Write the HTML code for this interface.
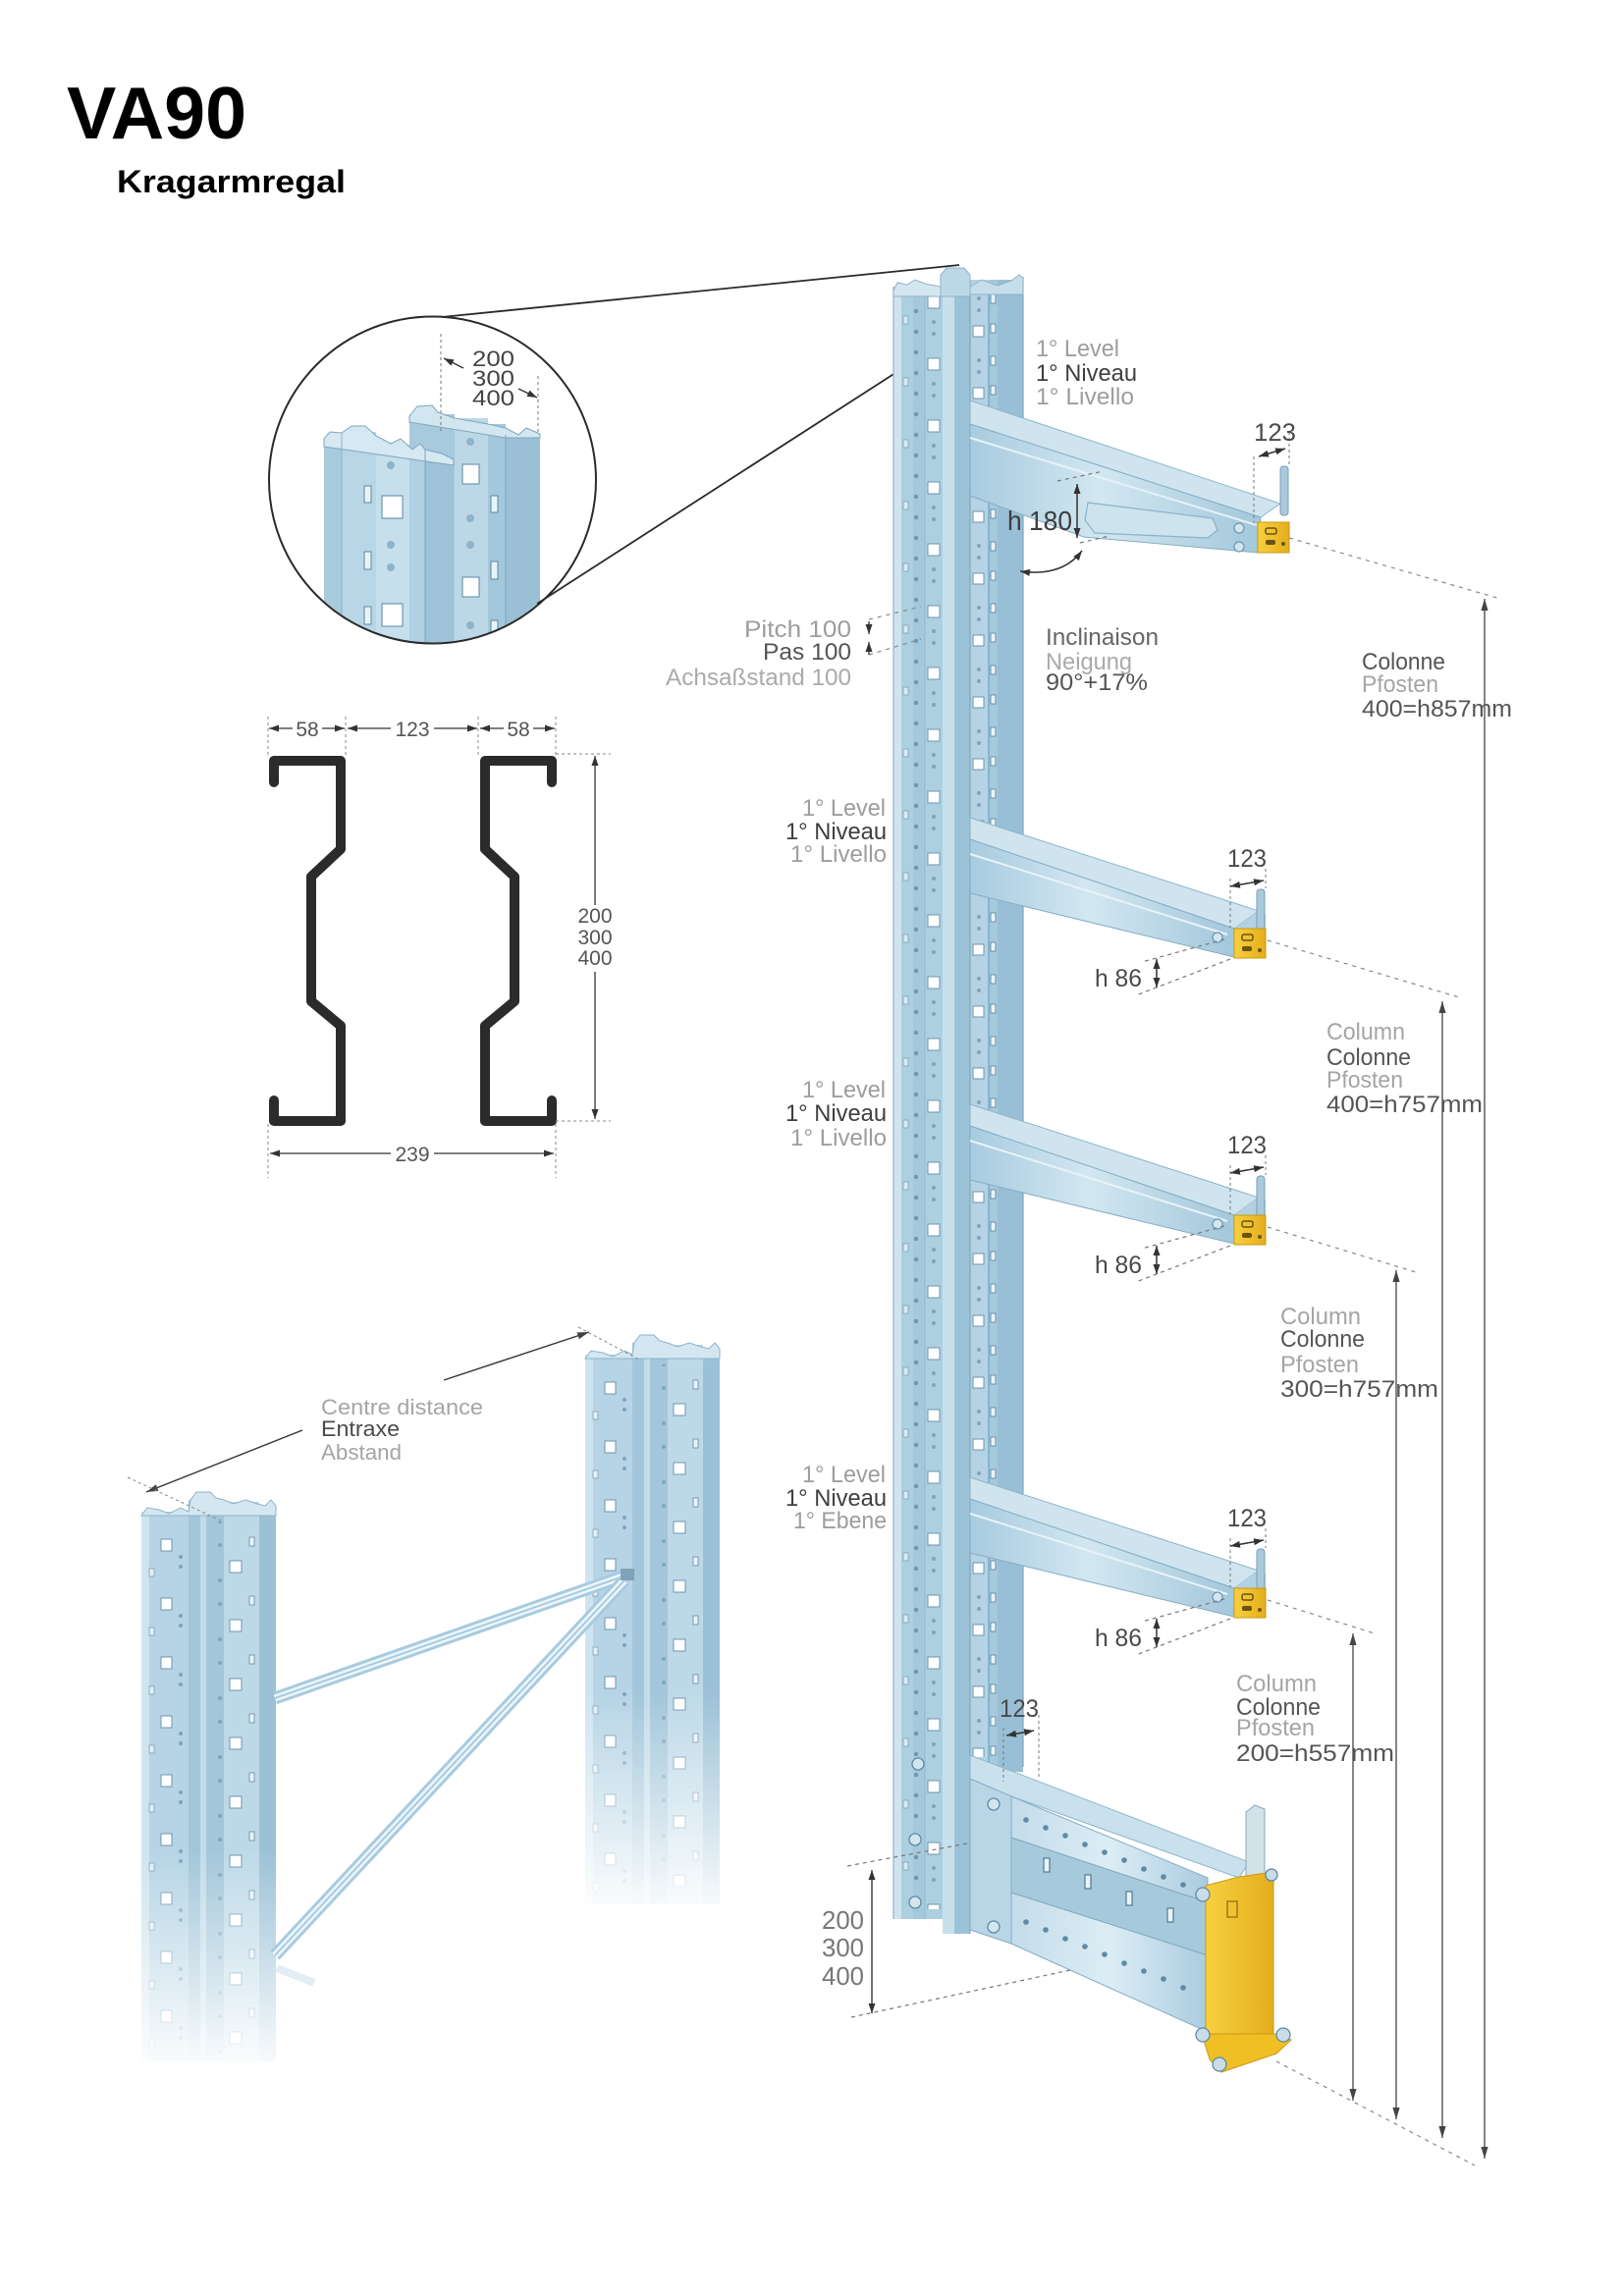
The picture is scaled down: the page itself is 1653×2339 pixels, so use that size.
<!DOCTYPE html>
<html><head><meta charset="utf-8">
<style>
html,body{margin:0;padding:0;background:#fff;}
svg{display:block;}
text{font-family:"Liberation Sans",sans-serif;}
</style></head>
<body>
<svg width="1653" height="2339" viewBox="0 0 1653 2339" xmlns="http://www.w3.org/2000/svg">
<defs>
 <marker id="a" viewBox="0 0 10 10" refX="10" refY="5" markerWidth="10" markerHeight="10" markerUnits="userSpaceOnUse" orient="auto-start-reverse"><path d="M0,1.5 L10,5 L0,8.5 z" fill="#333"/></marker>
 <marker id="b" viewBox="0 0 10 10" refX="10" refY="5" markerWidth="12" markerHeight="12" markerUnits="userSpaceOnUse" orient="auto-start-reverse"><path d="M0,2 L10,5 L0,8 z" fill="#444"/></marker>
 <linearGradient id="armF" x1="0" y1="0" x2="1" y2="0">
  <stop offset="0" stop-color="#a8cbdf"/><stop offset="0.45" stop-color="#d2e7f1"/><stop offset="1" stop-color="#a3c7db"/>
 </linearGradient>
 <linearGradient id="baseF" x1="0" y1="0" x2="1" y2="0">
  <stop offset="0" stop-color="#c3dcea"/><stop offset="0.5" stop-color="#dcedf5"/><stop offset="1" stop-color="#aacce0"/>
 </linearGradient>
 <linearGradient id="yel" x1="0" y1="0" x2="1" y2="0">
  <stop offset="0" stop-color="#f8d040"/><stop offset="1" stop-color="#e4ad1c"/>
 </linearGradient>
 <linearGradient id="fadeG" x1="0" y1="0" x2="0" y2="1">
  <stop offset="0" stop-color="#fff"/><stop offset="0.62" stop-color="#fff"/><stop offset="1" stop-color="#000"/>
 </linearGradient>
 <mask id="fadeM" maskUnits="userSpaceOnUse" x="-20" y="-20" width="200" height="620">
  <rect x="-20" y="-20" width="200" height="620" fill="url(#fadeG)"/>
 </mask>
 <clipPath id="circ"><circle cx="440.5" cy="489" r="165.5"/></clipPath>
 <pattern id="mcol" patternUnits="userSpaceOnUse" x="0" y="292" width="1653" height="63">
  <rect x="945" y="10" width="12" height="12" fill="#fff" stroke="#6d96ae" stroke-width="1"/>
  <circle cx="933" cy="4" r="2.2" fill="#6f97ae"/>
  <circle cx="933" cy="25" r="2.2" fill="#6f97ae"/>
  <circle cx="933" cy="46" r="2.2" fill="#6f97ae"/>
  <circle cx="951" cy="36" r="2" fill="#7ea5bb"/>
  <circle cx="951" cy="48" r="2" fill="#7ea5bb"/>
  <rect x="920" y="30" width="5" height="8" fill="#dbe9f1" stroke="#7aa0b6" stroke-width="0.8"/>
  <rect x="991" y="40" width="11" height="11" fill="#fff" stroke="#6d96ae" stroke-width="1"/>
  <rect x="1009" y="8" width="5" height="9" fill="#e9f3f8" stroke="#5f8aa3" stroke-width="0.9"/>
  <rect x="1009" y="38" width="5" height="9" fill="#e9f3f8" stroke="#5f8aa3" stroke-width="0.9"/>
  <circle cx="997" cy="12" r="2" fill="#7ea5bb"/>
  <circle cx="997" cy="24" r="2" fill="#7ea5bb"/>
 </pattern>
 <pattern id="fcol" patternUnits="userSpaceOnUse" x="0" y="40" width="200" height="60">
  <rect x="20" y="8" width="11" height="12" fill="#fff" stroke="#6d96ae" stroke-width="1"/>
  <rect x="8" y="38" width="5" height="8" fill="#e3eff5" stroke="#7aa0b6" stroke-width="0.8"/>
  <circle cx="40" cy="26" r="2" fill="#7ea5bb"/>
  <circle cx="40" cy="36" r="2" fill="#7ea5bb"/>
  <rect x="90" y="30" width="12" height="12" fill="#fff" stroke="#6d96ae" stroke-width="1"/>
  <rect x="110" y="6" width="5" height="9" fill="#e9f3f8" stroke="#5f8aa3" stroke-width="0.8"/>
  <circle cx="80" cy="14" r="2" fill="#7ea5bb"/>
  <circle cx="80" cy="50" r="2" fill="#7ea5bb"/>
 </pattern>
 <g id="fcolumn">
  <g mask="url(#fadeM)">
   <rect x="0" y="20" width="48" height="560" fill="#b6d4e5"/>
   <rect x="0" y="20" width="8" height="560" fill="#cfe4ef"/>
   <rect x="48" y="8" width="36" height="572" fill="#a3c6da"/>
   <rect x="60" y="8" width="6" height="572" fill="#c2dcea"/>
   <rect x="84" y="10" width="36" height="570" fill="#bdd9e8"/>
   <rect x="120" y="18" width="17" height="562" fill="#9cc1d7"/>
   <rect x="0" y="30" width="137" height="550" fill="url(#fcol)"/>
   <path d="M0,24 L6,16 L18,18 L28,22 L40,16 L48,20 L50,8 L56,0 L70,0 L76,6 L84,8 L94,12 L106,8 L118,12 L126,14 L132,8 L137,14 L137,24 Z" fill="#d4e7f1" stroke="#8db3c9" stroke-width="1"/>
  </g>
 </g>
 <g id="arm">
  <polygon points="988,833 1282,928 1257,946 988,855" fill="#cfe4ef" stroke="#8fb5cb" stroke-width="1"/>
  <polygon points="988,855 1257,946 1257,975 988,910" fill="url(#armF)" stroke="#86adc4" stroke-width="1"/>
  <line x1="988" y1="870" x2="1250" y2="952" stroke="#e8f3f8" stroke-width="2"/>
  <polygon points="1257,946 1282,928 1289,931 1289,946" fill="#b3d1e3"/>
  <rect x="1280" y="906" width="8" height="42" rx="3" fill="#a9c9dc" stroke="#7b9fb5" stroke-width="1"/>
  <rect x="1257" y="946" width="32" height="30" fill="url(#yel)" stroke="#c99a12" stroke-width="1"/>
  <rect x="1265" y="952" width="11" height="6" rx="2" fill="none" stroke="#6b5410" stroke-width="1.5"/>
  <rect x="1265" y="964" width="10" height="5" rx="2" fill="#6b5410"/>
  <circle cx="1283" cy="968" r="2" fill="#6b5410"/>
  <circle cx="1240" cy="955" r="5" fill="#d2e6f0" stroke="#6d96ae" stroke-width="1.2"/>
  <line x1="1253" y1="903" x2="1287" y2="897" stroke="#333" stroke-width="1.5" marker-start="url(#a)" marker-end="url(#a)"/>
  <line x1="1253" y1="895" x2="1253" y2="945" stroke="#777" stroke-width="1" stroke-dasharray="3,3"/>
  <line x1="1289" y1="885" x2="1289" y2="905" stroke="#777" stroke-width="1" stroke-dasharray="3,3"/>
  <line x1="1247" y1="957" x2="1163" y2="980" stroke="#777" stroke-width="1.2" stroke-dasharray="4,4"/>
  <line x1="1253" y1="977" x2="1157" y2="1014" stroke="#777" stroke-width="1.2" stroke-dasharray="4,4"/>
  <line x1="1178" y1="977" x2="1178" y2="1006" stroke="#333" stroke-width="1.5" marker-start="url(#a)" marker-end="url(#a)"/>
  <text x="1115" y="1005" font-size="25" fill="#4a4a4a" textLength="48" lengthAdjust="spacingAndGlyphs">h 86</text>
  <text x="1250" y="883" font-size="25" fill="#4a4a4a" textLength="40" lengthAdjust="spacingAndGlyphs">123</text>
 </g>
</defs>

<!-- Header -->
<text x="68" y="141" font-size="75" font-weight="bold" fill="#000" textLength="183" lengthAdjust="spacingAndGlyphs">VA90</text>
<text x="119" y="196" font-size="32" font-weight="bold" fill="#000" textLength="233" lengthAdjust="spacingAndGlyphs">Kragarmregal</text>

<!-- ========== CIRCLE DETAIL ========== -->
<g clip-path="url(#circ)">
 <rect x="417" y="422" width="46" height="240" fill="#a8cadd"/>
 <rect x="463" y="426" width="34" height="236" fill="#bcd8e7"/>
 <rect x="497" y="432" width="18" height="230" fill="#a3c7db"/>
 <rect x="515" y="443" width="35" height="219" fill="#9bc0d6"/>
 <path d="M417,424 L425,414 L440,413 L446,420 L463,426 L497,432 L515,436 L528,443 L536,436 L550,442 L550,446 L515,446 L417,430 Z" fill="#d2e6f0" stroke="#7fa6bd" stroke-width="1"/>
 <rect x="471" y="473" width="17" height="20" fill="#fff" stroke="#6f98b0" stroke-width="1.2"/>
 <rect x="471" y="588" width="17" height="20" fill="#fff" stroke="#6f98b0" stroke-width="1.2"/>
 <circle cx="479" cy="450" r="4" fill="#8fb3c8"/>
 <circle cx="479" cy="528" r="4" fill="#8fb3c8"/>
 <circle cx="479" cy="555" r="4" fill="#8fb3c8"/>
 <circle cx="479" cy="637" r="4" fill="#8fb3c8"/>
 <rect x="500" y="505" width="7" height="17" fill="#e8f3f8" stroke="#5d88a1" stroke-width="1"/>
 <rect x="500" y="572" width="7" height="18" fill="#e8f3f8" stroke="#5d88a1" stroke-width="1"/>
 <rect x="500" y="632" width="7" height="16" fill="#e8f3f8" stroke="#5d88a1" stroke-width="1"/>
 <line x1="515" y1="443" x2="515" y2="662" stroke="#7fa6bd" stroke-width="1"/>
 <rect x="330" y="447" width="18" height="215" fill="#a9cbde"/>
 <rect x="348" y="440" width="35" height="222" fill="#b8d6e6"/>
 <rect x="383" y="453" width="34" height="209" fill="#c6dfec"/>
 <rect x="417" y="458" width="16" height="204" fill="#b0d0e3"/>
 <rect x="433" y="466" width="29" height="196" fill="#9ec3d8"/>
 <path d="M330,447 L336,440 L348,441 L358,434 L372,434 L383,444 L398,452 L408,447 L420,458 L428,452 L433,458 L450,462 L462,468 L462,474 L330,455 Z" fill="#d6e9f2" stroke="#7fa6bd" stroke-width="1"/>
 <rect x="371" y="495" width="7" height="17" fill="#e8f3f8" stroke="#5d88a1" stroke-width="1"/>
 <rect x="371" y="562" width="7" height="18" fill="#e8f3f8" stroke="#5d88a1" stroke-width="1"/>
 <rect x="371" y="618" width="7" height="18" fill="#e8f3f8" stroke="#5d88a1" stroke-width="1"/>
 <rect x="389" y="505" width="21" height="23" fill="#fff" stroke="#6f98b0" stroke-width="1.2"/>
 <rect x="389" y="615" width="21" height="23" fill="#fff" stroke="#6f98b0" stroke-width="1.2"/>
 <circle cx="398" cy="474" r="4" fill="#8fb3c8"/>
 <circle cx="398" cy="555" r="4" fill="#8fb3c8"/>
 <circle cx="398" cy="578" r="4" fill="#8fb3c8"/>
 <line x1="348" y1="441" x2="348" y2="662" stroke="#8db3c9" stroke-width="1"/>
 <line x1="433" y1="458" x2="433" y2="662" stroke="#7fa6bd" stroke-width="1"/>
 <line x1="449" y1="340" x2="449" y2="440" stroke="#777" stroke-width="1" stroke-dasharray="3,3"/>
 <line x1="548" y1="383" x2="548" y2="442" stroke="#777" stroke-width="1" stroke-dasharray="3,3"/>
 <line x1="472" y1="375" x2="452" y2="365" stroke="#333" stroke-width="1.3" marker-end="url(#a)"/>
 <line x1="528" y1="396" x2="547" y2="405" stroke="#333" stroke-width="1.3" marker-end="url(#a)"/>
 <text x="481" y="373" font-size="22" fill="#444" textLength="43" lengthAdjust="spacingAndGlyphs">200</text>
 <text x="481" y="393" font-size="22" fill="#444" textLength="43" lengthAdjust="spacingAndGlyphs">300</text>
 <text x="481" y="413" font-size="22" fill="#444" textLength="43" lengthAdjust="spacingAndGlyphs">400</text>
</g>
<circle cx="440.5" cy="489" r="166.5" fill="none" stroke="#2a2a2a" stroke-width="2"/>
<line x1="450" y1="323" x2="977" y2="270" stroke="#2a2a2a" stroke-width="1.8"/>
<line x1="547" y1="615" x2="1036" y2="300" stroke="#2a2a2a" stroke-width="1.8"/>

<!-- ========== PROFILE SECTION ========== -->
<g fill="none" stroke="#2b2b2b" stroke-width="10" stroke-linejoin="round" stroke-linecap="round">
 <path d="M279,797 V775 H347 V865 L317,893 V1020 L347,1045 V1142 H279 V1121"/>
 <path d="M562,797 V775 H494 V865 L524,893 V1020 L494,1045 V1142 H562 V1121"/>
</g>
<g stroke="#888" stroke-width="1" stroke-dasharray="3,3" fill="none">
 <line x1="273" y1="730" x2="273" y2="772"/>
 <line x1="352" y1="730" x2="352" y2="772"/>
 <line x1="487" y1="730" x2="487" y2="772"/>
 <line x1="566" y1="730" x2="566" y2="772"/>
 <line x1="566" y1="768" x2="622" y2="768"/>
 <line x1="566" y1="1142" x2="622" y2="1142"/>
 <line x1="273" y1="1145" x2="273" y2="1200"/>
 <line x1="566" y1="1145" x2="566" y2="1200"/>
</g>
<g stroke="#333" stroke-width="1.3" fill="none">
 <line x1="298" y1="742" x2="274" y2="742" marker-end="url(#a)"/>
 <line x1="328" y1="742" x2="351" y2="742" marker-end="url(#a)"/>
 <line x1="398" y1="742" x2="354" y2="742" marker-end="url(#a)"/>
 <line x1="442" y1="742" x2="486" y2="742" marker-end="url(#a)"/>
 <line x1="513" y1="742" x2="489" y2="742" marker-end="url(#a)"/>
 <line x1="543" y1="742" x2="565" y2="742" marker-end="url(#a)"/>
 <line x1="606" y1="922" x2="606" y2="770" marker-end="url(#a)"/>
 <line x1="606" y1="990" x2="606" y2="1140" marker-end="url(#a)"/>
 <line x1="398" y1="1175" x2="275" y2="1175" marker-end="url(#a)"/>
 <line x1="442" y1="1175" x2="564" y2="1175" marker-end="url(#a)"/>
</g>
<g font-size="21" fill="#555" text-anchor="middle">
 <text x="313" y="750">58</text>
 <text x="420" y="750">123</text>
 <text x="528" y="750">58</text>
 <text x="606" y="940">200</text>
 <text x="606" y="962">300</text>
 <text x="606" y="983">400</text>
 <text x="420" y="1183">239</text>
</g>

<!-- ========== LEFT FRAME ========== -->
<use href="#fcolumn" transform="translate(596,1360)"/>
<use href="#fcolumn" transform="translate(144,1520)"/>
<g stroke-linecap="butt">
 <line x1="640" y1="1604" x2="280" y2="1730" stroke="#a8cbe0" stroke-width="13"/>
 <line x1="640" y1="1604" x2="280" y2="1730" stroke="#eef6fa" stroke-width="7"/>
 <line x1="640" y1="1604" x2="280" y2="1730" stroke="#a8cbe0" stroke-width="2"/>
 <line x1="636" y1="1610" x2="280" y2="1992" stroke="#a8cbe0" stroke-width="13"/>
 <line x1="636" y1="1610" x2="280" y2="1992" stroke="#eef6fa" stroke-width="7"/>
 <line x1="636" y1="1610" x2="280" y2="1992" stroke="#a8cbe0" stroke-width="2"/>
 <line x1="282" y1="2005" x2="320" y2="2020" stroke="#cfe3ee" stroke-width="8" opacity="0.6"/>
</g>
<rect x="632" y="1598" width="14" height="12" fill="#7fa3b9"/>
<line x1="452" y1="1406" x2="600" y2="1357" stroke="#333" stroke-width="1.4" marker-end="url(#b)"/>
<line x1="308" y1="1457" x2="149" y2="1520" stroke="#333" stroke-width="1.4" marker-end="url(#b)"/>
<line x1="589" y1="1352" x2="651" y2="1385" stroke="#888" stroke-width="1" stroke-dasharray="3,3"/>
<line x1="130" y1="1505" x2="227" y2="1550" stroke="#888" stroke-width="1" stroke-dasharray="3,3"/>
<text x="327" y="1441" font-size="22" fill="#a5a5a5" textLength="165" lengthAdjust="spacingAndGlyphs">Centre distance</text>
<text x="327" y="1463" font-size="22" fill="#4a4a4a" textLength="80" lengthAdjust="spacingAndGlyphs">Entraxe</text>
<text x="327" y="1487" font-size="22" fill="#a5a5a5" textLength="82" lengthAdjust="spacingAndGlyphs">Abstand</text>

<!-- ========== MAIN COLUMN ========== -->
<rect x="988" y="285" width="54" height="1520" fill="#a6c9dd"/>
<rect x="988" y="285" width="19" height="1520" fill="#b5d3e4"/>
<rect x="1016" y="285" width="26" height="1520" fill="#98bfd5"/>
<rect x="988" y="300" width="54" height="1490" fill="url(#mcol)"/>
<line x1="1042" y1="282" x2="1042" y2="1800" stroke="#7ea6bf" stroke-width="1.2"/>
<line x1="1007" y1="290" x2="1007" y2="1800" stroke="#5f9cbc" stroke-width="1"/>
<rect x="910" y="292" width="78" height="1663" fill="#add0e0"/>
<rect x="910" y="292" width="8" height="1663" fill="#cfe4ef"/>
<rect x="930" y="292" width="12" height="1663" fill="#a5c9dc"/>
<rect x="960" y="285" width="12" height="1685" fill="#c8e0ec"/>
<rect x="972" y="285" width="16" height="1685" fill="#9cc2d7"/>
<rect x="910" y="300" width="62" height="1645" fill="url(#mcol)"/>
<line x1="910" y1="292" x2="910" y2="1955" stroke="#8db3c9" stroke-width="1.2"/>
<line x1="942" y1="292" x2="942" y2="1955" stroke="#94b9ce" stroke-width="1"/>
<line x1="988" y1="285" x2="988" y2="1970" stroke="#7ea6bf" stroke-width="1.2"/>
<path d="M910,296 L914,288 L924,290 L932,285 L942,289 L958,292 L958,302 L910,302 Z" fill="#d4e7f1" stroke="#8db3c9" stroke-width="1"/>
<path d="M958,302 L958,280 L964,273 L982,273 L988,280 L988,302 Z" fill="#bcd8e7" stroke="#8db3c9" stroke-width="1"/>
<path d="M988,292 L1000,285 L1016,291 L1030,286 L1038,280 L1042,283 L1042,300 L988,300 Z" fill="#c6deea" stroke="#8db3c9" stroke-width="1"/>
<circle cx="935" cy="1797" r="6" fill="#d2e6f0" stroke="#5f8aa3" stroke-width="1.3"/>
<circle cx="932" cy="1874" r="6" fill="#d2e6f0" stroke="#5f8aa3" stroke-width="1.3"/>
<circle cx="932" cy="1938" r="6" fill="#d2e6f0" stroke="#5f8aa3" stroke-width="1.3"/>

<!-- ========== ARM 1 (tapered) ========== -->
<polygon points="988,408 1304,513 1284,527 988,432" fill="#cfe4ef" stroke="#8fb5cb" stroke-width="1"/>
<polygon points="988,432 1284,527 1281,563 1104,547 988,505" fill="url(#armF)" stroke="#86adc4" stroke-width="1"/>
<line x1="988" y1="446" x2="1280" y2="535" stroke="#e6f2f8" stroke-width="2"/>
<polygon points="1108,512 1235,528 1240,540 1230,548 1115,543 1105,530" fill="#cde3ee" stroke="#8ab2c9" stroke-width="1.2"/>
<rect x="1304" y="475" width="8" height="50" rx="3" fill="#a9c9dc" stroke="#7b9fb5" stroke-width="1"/>
<rect x="1281" y="532" width="32" height="31" fill="url(#yel)" stroke="#c99a12" stroke-width="1"/>
<rect x="1289" y="538" width="11" height="6" rx="2" fill="none" stroke="#6b5410" stroke-width="1.5"/>
<rect x="1289" y="550" width="10" height="5" rx="2" fill="#6b5410"/>
<circle cx="1307" cy="554" r="2" fill="#6b5410"/>
<circle cx="1262" cy="538" r="5" fill="#d2e6f0" stroke="#6d96ae" stroke-width="1.2"/>
<circle cx="1262" cy="557" r="5" fill="#d2e6f0" stroke="#6d96ae" stroke-width="1.2"/>
<line x1="1282" y1="465" x2="1309" y2="457" stroke="#333" stroke-width="1.5" marker-start="url(#a)" marker-end="url(#a)"/>
<line x1="1277" y1="465" x2="1277" y2="533" stroke="#777" stroke-width="1" stroke-dasharray="3,3"/>
<line x1="1313" y1="440" x2="1313" y2="475" stroke="#777" stroke-width="1" stroke-dasharray="3,3"/>
<text x="1277" y="449" font-size="25" fill="#4a4a4a" textLength="43" lengthAdjust="spacingAndGlyphs">123</text>
<line x1="1077" y1="490" x2="1124" y2="480" stroke="#777" stroke-width="1.2" stroke-dasharray="4,4"/>
<line x1="1100" y1="553" x2="1130" y2="546" stroke="#777" stroke-width="1.2" stroke-dasharray="4,4"/>
<line x1="1097" y1="493" x2="1097" y2="548" stroke="#333" stroke-width="1.5" marker-start="url(#a)" marker-end="url(#a)"/>
<text x="1026" y="540" font-size="28" fill="#3d3d3d" textLength="66" lengthAdjust="spacingAndGlyphs">h 180</text>
<path d="M1039,582 Q1082,588 1102,561" fill="none" stroke="#333" stroke-width="1.5" marker-start="url(#a)" marker-end="url(#a)"/>

<!-- ========== ARMS 2-4 ========== -->
<use href="#arm"/>
<use href="#arm" transform="translate(0,292)"/>
<use href="#arm" transform="translate(0,672)"/>

<!-- ========== BASE ========== -->
<polygon points="988,1788 1272,1897 1262,1913 1030,1830 988,1812" fill="#c9e1ed" stroke="#8fb5cb" stroke-width="1"/>
<polygon points="1030,1830 1230,1913 1230,2070 1030,1980" fill="url(#baseF)" stroke="#86adc4" stroke-width="1"/>
<polygon points="1030,1872 1230,1938 1230,1992 1030,1928" fill="#a6c9dc"/>
<line x1="1030" y1="1872" x2="1230" y2="1938" stroke="#7fa6bd" stroke-width="1"/>
<line x1="1030" y1="1928" x2="1230" y2="1992" stroke="#7fa6bd" stroke-width="1"/>
<polygon points="988,1812 1030,1830 1030,1980 988,1966" fill="#b9d6e6" stroke="#86adc4" stroke-width="1"/>
<g fill="#5f8aa3">
 <circle cx="1045" cy="1854" r="2.8"/><circle cx="1065" cy="1862" r="2.8"/><circle cx="1085" cy="1870" r="2.8"/><circle cx="1105" cy="1879" r="2.8"/><circle cx="1125" cy="1887" r="2.8"/><circle cx="1145" cy="1895" r="2.8"/><circle cx="1165" cy="1904" r="2.8"/><circle cx="1185" cy="1912" r="2.8"/><circle cx="1205" cy="1920" r="2.8"/>
 <circle cx="1045" cy="1958" r="2.8"/><circle cx="1065" cy="1966" r="2.8"/><circle cx="1085" cy="1975" r="2.8"/><circle cx="1105" cy="1983" r="2.8"/><circle cx="1125" cy="1991" r="2.8"/><circle cx="1145" cy="2000" r="2.8"/><circle cx="1165" cy="2008" r="2.8"/><circle cx="1185" cy="2016" r="2.8"/><circle cx="1205" cy="2025" r="2.8"/>
</g>
<g fill="#eaf4f8" stroke="#4f7a92" stroke-width="1.2">
 <rect x="1063" y="1893" width="6" height="14"/><rect x="1105" y="1910" width="6" height="14"/><rect x="1147" y="1927" width="6" height="14"/><rect x="1189" y="1944" width="6" height="14"/>
</g>
<g fill="#d2e6f0" stroke="#5f8aa3" stroke-width="1.3">
 <circle cx="1012" cy="1838" r="6"/><circle cx="1012" cy="1963" r="6"/>
</g>
<!-- pin & yellow post -->
<path d="M1269,1918 L1269,1846 L1278,1839 L1288,1843 L1288,1918 Z" fill="#d3e1e9" stroke="#8aa8ba" stroke-width="1"/>
<path d="M1228,1921 L1262,1912 L1297,1907 L1297,2080 L1228,2080 Z" fill="url(#yel)" stroke="#c99a12" stroke-width="1"/>
<path d="M1224,2072 L1300,2072 L1315,2078 L1300,2092 L1244,2111 L1232,2098 Z" fill="#f0bf24" stroke="#c99a12" stroke-width="1"/>
<rect x="1250" y="1937" width="10" height="16" fill="none" stroke="#a07a10" stroke-width="1.5"/>
<g fill="#c9dde8" stroke="#5f8aa3" stroke-width="1.3">
 <circle cx="1225" cy="1930" r="7"/><circle cx="1225" cy="2073" r="7"/><circle cx="1307" cy="2073" r="7"/><circle cx="1242" cy="2103" r="7"/><circle cx="1295" cy="1910" r="6"/>
</g>
<!-- base dims -->
<line x1="1025" y1="1768" x2="1053" y2="1763" stroke="#333" stroke-width="1.5" marker-start="url(#a)" marker-end="url(#a)"/>
<line x1="1022" y1="1760" x2="1022" y2="1815" stroke="#777" stroke-width="1" stroke-dasharray="3,3"/>
<line x1="1058" y1="1747" x2="1058" y2="1813" stroke="#777" stroke-width="1" stroke-dasharray="3,3"/>
<text x="1018" y="1749" font-size="25" fill="#4a4a4a" textLength="40" lengthAdjust="spacingAndGlyphs">123</text>
<line x1="863" y1="1901" x2="985" y2="1878" stroke="#777" stroke-width="1.2" stroke-dasharray="4,4"/>
<line x1="867" y1="2055" x2="1090" y2="2007" stroke="#777" stroke-width="1.2" stroke-dasharray="4,4"/>
<line x1="888" y1="1905" x2="888" y2="2051" stroke="#333" stroke-width="1.4" marker-start="url(#a)" marker-end="url(#a)"/>
<g font-size="26" fill="#777" text-anchor="end">
 <text x="880" y="1965" textLength="43" lengthAdjust="spacingAndGlyphs">200</text>
 <text x="880" y="1993" textLength="43" lengthAdjust="spacingAndGlyphs">300</text>
 <text x="880" y="2022" textLength="43" lengthAdjust="spacingAndGlyphs">400</text>
</g>

<!-- ========== RIGHT DIMENSIONS ========== -->
<g stroke="#444" stroke-width="1.3">
 <line x1="1512" y1="610" x2="1512" y2="2199" marker-start="url(#b)" marker-end="url(#b)"/>
 <line x1="1469" y1="1020" x2="1469" y2="2178" marker-start="url(#b)" marker-end="url(#b)"/>
 <line x1="1422" y1="1294" x2="1422" y2="2159" marker-start="url(#b)" marker-end="url(#b)"/>
 <line x1="1378" y1="1664" x2="1378" y2="2140" marker-start="url(#b)" marker-end="url(#b)"/>
</g>
<g stroke="#888" stroke-width="1.2" stroke-dasharray="4,5">
 <line x1="1313" y1="548" x2="1528" y2="610"/>
 <line x1="1291" y1="958" x2="1486" y2="1016"/>
 <line x1="1291" y1="1250" x2="1442" y2="1296"/>
 <line x1="1291" y1="1630" x2="1400" y2="1664"/>
 <line x1="1300" y1="2100" x2="1502" y2="2206"/>
 <line x1="885" y1="631" x2="938" y2="618"/>
 <line x1="885" y1="667" x2="938" y2="651"/>
</g>

<!-- ========== LABELS ========== -->
<g font-size="24">
 <text x="1055" y="363" fill="#9d9d9d" textLength="85" lengthAdjust="spacingAndGlyphs">1° Level</text>
 <text x="1055" y="388" fill="#3f3f3f" textLength="103" lengthAdjust="spacingAndGlyphs">1° Niveau</text>
 <text x="1055" y="412" fill="#9d9d9d" textLength="100" lengthAdjust="spacingAndGlyphs">1° Livello</text>
</g>
<g font-size="24" text-anchor="end">
 <text x="902" y="831" fill="#9d9d9d" textLength="85" lengthAdjust="spacingAndGlyphs">1° Level</text>
 <text x="903" y="855" fill="#3f3f3f" textLength="103" lengthAdjust="spacingAndGlyphs">1° Niveau</text>
 <text x="903" y="878" fill="#9d9d9d" textLength="98" lengthAdjust="spacingAndGlyphs">1° Livello</text>
 <text x="902" y="1118" fill="#9d9d9d" textLength="85" lengthAdjust="spacingAndGlyphs">1° Level</text>
 <text x="903" y="1142" fill="#3f3f3f" textLength="103" lengthAdjust="spacingAndGlyphs">1° Niveau</text>
 <text x="903" y="1167" fill="#9d9d9d" textLength="98" lengthAdjust="spacingAndGlyphs">1° Livello</text>
 <text x="902" y="1510" fill="#9d9d9d" textLength="85" lengthAdjust="spacingAndGlyphs">1° Level</text>
 <text x="903" y="1534" fill="#3f3f3f" textLength="103" lengthAdjust="spacingAndGlyphs">1° Niveau</text>
 <text x="903" y="1557" fill="#9d9d9d" textLength="95" lengthAdjust="spacingAndGlyphs">1° Ebene</text>
 <text x="867" y="649" fill="#9d9d9d" textLength="109" lengthAdjust="spacingAndGlyphs">Pitch 100</text>
 <text x="867" y="672" fill="#555" textLength="90" lengthAdjust="spacingAndGlyphs">Pas 100</text>
 <text x="867" y="698" fill="#aaa" textLength="189" lengthAdjust="spacingAndGlyphs">Achsaßstand 100</text>
</g>
<line x1="885" y1="633" x2="885" y2="646" stroke="#333" stroke-width="1.3" marker-end="url(#a)"/>
<line x1="885" y1="667" x2="885" y2="654" stroke="#333" stroke-width="1.3" marker-end="url(#a)"/>
<g font-size="24">
 <text x="1065" y="657" fill="#666" textLength="115" lengthAdjust="spacingAndGlyphs">Inclinaison</text>
 <text x="1065" y="682" fill="#aaa" textLength="88" lengthAdjust="spacingAndGlyphs">Neigung</text>
 <text x="1065" y="703" fill="#555" textLength="104" lengthAdjust="spacingAndGlyphs">90°+17%</text>

 <text x="1387" y="682" fill="#555" textLength="85" lengthAdjust="spacingAndGlyphs">Colonne</text>
 <text x="1387" y="705" fill="#a5a5a5" textLength="78" lengthAdjust="spacingAndGlyphs">Pfosten</text>
 <text x="1387" y="730" fill="#555" textLength="153" lengthAdjust="spacingAndGlyphs">400=h857mm</text>

 <text x="1351" y="1059" fill="#a5a5a5" textLength="80" lengthAdjust="spacingAndGlyphs">Column</text>
 <text x="1351" y="1085" fill="#555" textLength="86" lengthAdjust="spacingAndGlyphs">Colonne</text>
 <text x="1351" y="1108" fill="#a5a5a5" textLength="78" lengthAdjust="spacingAndGlyphs">Pfosten</text>
 <text x="1351" y="1133" fill="#555" textLength="159" lengthAdjust="spacingAndGlyphs">400=h757mm</text>

 <text x="1304" y="1349" fill="#a5a5a5" textLength="82" lengthAdjust="spacingAndGlyphs">Column</text>
 <text x="1304" y="1372" fill="#555" textLength="86" lengthAdjust="spacingAndGlyphs">Colonne</text>
 <text x="1304" y="1398" fill="#a5a5a5" textLength="80" lengthAdjust="spacingAndGlyphs">Pfosten</text>
 <text x="1304" y="1423" fill="#555" textLength="161" lengthAdjust="spacingAndGlyphs">300=h757mm</text>

 <text x="1259" y="1723" fill="#a5a5a5" textLength="82" lengthAdjust="spacingAndGlyphs">Column</text>
 <text x="1259" y="1747" fill="#555" textLength="86" lengthAdjust="spacingAndGlyphs">Colonne</text>
 <text x="1259" y="1768" fill="#a5a5a5" textLength="80" lengthAdjust="spacingAndGlyphs">Pfosten</text>
 <text x="1259" y="1794" fill="#555" textLength="161" lengthAdjust="spacingAndGlyphs">200=h557mm</text>
</g>
</svg>
</body></html>
